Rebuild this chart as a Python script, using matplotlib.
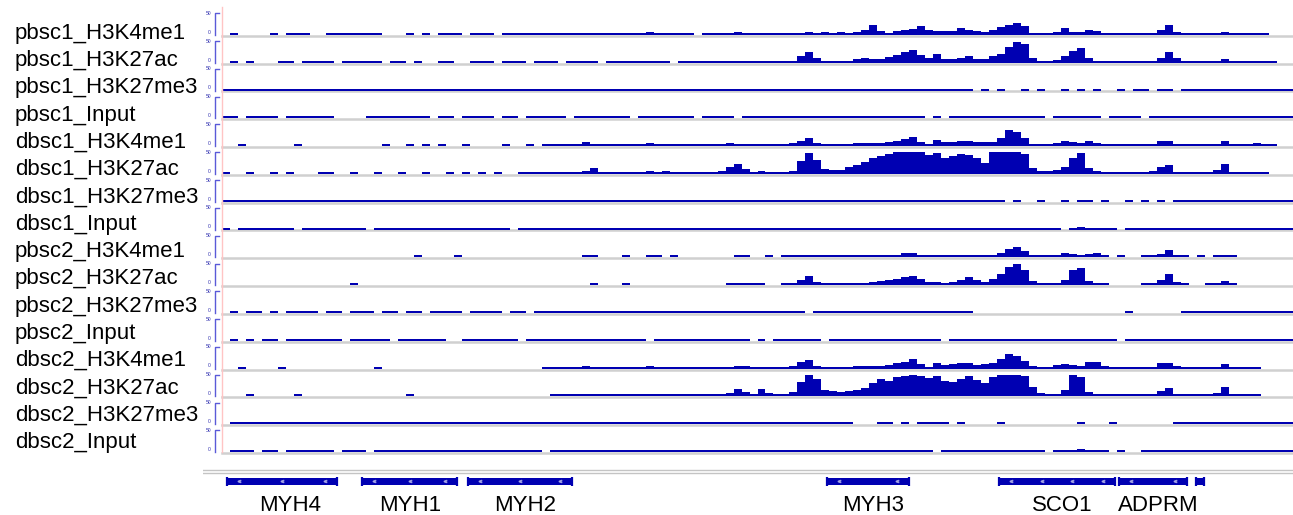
import numpy as np
import matplotlib
matplotlib.use("Agg")
import matplotlib.pyplot as plt

plt.rcParams["font.family"] = ["Liberation Sans", "DejaVu Sans"]

# region shown: 134 bins of 4 kb
region_start = 0
bin_kb = 4

track_names = [
    "pbsc1_H3K4me1", "pbsc1_H3K27ac", "pbsc1_H3K27me3", "pbsc1_Input",
    "dbsc1_H3K4me1", "dbsc1_H3K27ac", "dbsc1_H3K27me3", "dbsc1_Input",
    "pbsc2_H3K4me1", "pbsc2_H3K27ac", "pbsc2_H3K27me3", "pbsc2_Input",
    "dbsc2_H3K4me1", "dbsc2_H3K27ac", "dbsc2_H3K27me3", "dbsc2_Input",
]

# signal per bin (0-50 scale, peak height inside each bin)
pbsc1_H3K4me1 = [
    0, 1, 0, 0, 0, 0, 1, 0, 1, 1, 1, 0, 0, 1, 1, 1, 1, 1, 1, 1, 0, 0, 0, 1, 0, 1, 0, 1, 1, 1,
    0, 1, 1, 1, 0, 1, 1, 1, 1, 1, 2, 2, 2, 3, 2, 2, 1, 1, 2, 2, 2, 2, 4, 8, 3, 2, 2, 1, 2, 0,
    1, 2, 2, 3, 6, 4, 2,
    1, 2, 2, 3, 3, 4, 6, 5, 6, 5, 6, 5, 8, 12, 22, 9, 5, 10, 12, 14, 20, 12, 10, 9, 10, 15, 11, 9, 8, 12,
    18, 24, 28, 20, 3, 3, 4, 8, 15, 7, 7, 12, 9, 3, 2, 1, 2, 1, 1, 3, 12, 22, 8, 3, 2, 2, 3, 4,
    6, 3, 2, 2, 3, 2, 0, 0, 0,
]
pbsc1_H3K27ac = [
    0, 1, 0, 1, 0, 0, 0, 1, 1, 0, 1, 1, 1, 1, 0, 1, 1, 1, 1, 1, 0, 1, 1, 0, 1, 0, 0, 1, 1, 0,
    0, 1, 1, 1, 0, 1, 1, 1, 0, 1, 1, 1, 0, 1, 2, 1, 1, 0, 1, 2, 1, 1, 2, 3, 2, 1, 0, 1, 2, 2,
    2, 2, 3, 3, 5, 4, 2,
    1, 2, 1, 2, 3, 16, 24, 10, 5, 4, 4, 5, 8, 10, 9, 8, 13, 18, 24, 30, 18, 10, 20, 9, 8, 10, 16, 8, 8, 15,
    20, 36, 48, 44, 10, 3, 3, 6, 15, 28, 34, 12, 5, 4, 2, 1, 1, 1, 2, 4, 12, 24, 10, 3, 2, 1, 3, 5,
    8, 5, 2, 1, 2, 1, 1, 0, 0,
]
pbsc1_H3K27me3 = [
    1, 2, 1, 1, 2, 1, 1, 1, 2, 1, 1, 2, 1, 1, 1, 2, 1, 1, 2, 1, 1, 1, 2, 2, 1, 1, 1, 2, 1, 1,
    1, 2, 1, 1, 1, 1, 2, 1, 1, 2, 1, 1, 2, 2, 2, 1, 1, 1, 2, 1, 1, 1, 2, 2, 2, 2, 1, 1, 1, 2,
    2, 1, 1, 2, 2, 2, 1,
    1, 2, 1, 1, 2, 1, 1, 2, 1, 1, 2, 1, 1, 1, 2, 1, 2, 1, 2, 2, 1, 2, 1, 1, 2, 1, 1, 0, 1, 0,
    1, 0, 0, 1, 0, 1, 0, 0, 1, 0, 1, 0, 1, 0, 0, 1, 0, 1, 1, 0, 1, 1, 0, 2, 4, 3, 3, 2, 2, 2,
    3, 2, 2, 3, 2, 1, 2,
]
pbsc1_Input = [
    1, 1, 0, 1, 2, 1, 1, 0, 1, 1, 1, 1, 1, 1, 0, 0, 0, 0, 1, 1, 1, 1, 1, 2, 1, 1, 0, 1, 1, 0,
    1, 1, 1, 1, 0, 1, 1, 0, 1, 1, 2, 1, 1, 0, 1, 1, 1, 2, 1, 1, 1, 0, 1, 2, 1, 1, 1, 2, 1, 0,
    1, 1, 2, 1, 0, 1, 1,
    1, 1, 2, 1, 1, 2, 1, 1, 2, 2, 1, 2, 2, 1, 1, 2, 2, 1, 1, 2, 1, 0, 1, 0, 1, 1, 1, 2, 1, 3,
    1, 1, 2, 1, 2, 1, 0, 1, 2, 1, 3, 2, 1, 0, 1, 1, 1, 1, 0, 1, 4, 2, 1, 1, 1, 1, 2, 2, 2, 3,
    2, 1, 1, 1, 1, 1, 1,
]
dbsc1_H3K4me1 = [
    0, 0, 1, 0, 0, 0, 0, 0, 0, 1, 0, 0, 0, 0, 0, 0, 0, 0, 0, 0, 1, 0, 0, 1, 0, 1, 0, 1, 0, 0,
    1, 0, 0, 0, 0, 1, 0, 0, 1, 0, 1, 1, 1, 2, 4, 9, 3, 1, 2, 1, 1, 1, 2, 7, 3, 2, 1, 1, 1, 1,
    1, 2, 3, 7, 5, 3, 2,
    2, 2, 3, 4, 7, 11, 20, 8, 4, 4, 5, 4, 7, 8, 7, 8, 9, 12, 16, 22, 10, 5, 15, 9, 9, 12, 13, 10, 9, 10,
    18, 38, 32, 18, 5, 3, 3, 8, 13, 9, 7, 11, 8, 4, 2, 1, 2, 1, 2, 4, 12, 12, 4, 3, 3, 4, 3, 5,
    12, 4, 2, 1, 8, 2, 1, 0, 0,
]
dbsc1_H3K27ac = [
    1, 0, 0, 1, 0, 0, 1, 0, 1, 0, 0, 0, 1, 1, 0, 0, 1, 0, 0, 1, 0, 0, 1, 0, 0, 1, 0, 0, 1, 0,
    1, 0, 1, 0, 1, 0, 0, 1, 1, 1, 1, 1, 2, 2, 3, 8, 13, 5, 2, 1, 1, 2, 2, 8, 3, 6, 2, 1, 1, 1,
    2, 3, 8, 15, 22, 12, 5,
    8, 4, 3, 3, 8, 30, 48, 32, 12, 10, 10, 15, 20, 28, 36, 42, 46, 50, 50, 50, 50, 44, 48, 38, 42, 46, 44, 36, 26, 50,
    50, 50, 50, 46, 14, 8, 7, 9, 15, 36, 48, 14, 6, 4, 3, 2, 1, 2, 3, 8, 15, 20, 4, 2, 1, 2, 4, 10,
    24, 5, 2, 1, 1, 1, 0, 0, 0,
]
dbsc1_H3K27me3 = [
    2, 1, 2, 2, 1, 1, 1, 2, 1, 1, 1, 2, 2, 1, 1, 2, 1, 2, 2, 1, 1, 1, 2, 2, 1, 2, 2, 2, 1, 2,
    1, 2, 2, 1, 1, 1, 1, 1, 2, 1, 1, 2, 2, 2, 1, 2, 1, 1, 2, 1, 1, 2, 1, 2, 1, 2, 2, 1, 1, 2,
    2, 1, 2, 1, 2, 1, 1,
    1, 1, 2, 1, 1, 2, 1, 1, 1, 2, 1, 1, 2, 1, 2, 1, 1, 2, 1, 1, 1, 2, 1, 1, 1, 1, 1, 1, 1, 1,
    2, 0, 1, 0, 0, 1, 0, 0, 1, 0, 1, 1, 0, 1, 0, 0, 1, 0, 1, 0, 1, 0, 2, 2, 3, 2, 2, 2, 1, 5,
    4, 3, 2, 2, 2, 2, 1,
]
dbsc1_Input = [
    1, 0, 1, 1, 1, 2, 2, 2, 1, 0, 1, 1, 1, 2, 1, 1, 1, 1, 0, 1, 1, 1, 1, 1, 1, 2, 1, 1, 1, 1,
    1, 2, 2, 3, 1, 1, 0, 1, 1, 1, 1, 1, 1, 2, 1, 1, 1, 1, 2, 1, 2, 1, 1, 1, 1, 1, 1, 2, 1, 1,
    2, 3, 2, 3, 2, 2, 1,
    2, 2, 2, 1, 2, 3, 3, 2, 2, 3, 3, 3, 2, 3, 3, 3, 3, 3, 2, 3, 3, 1, 1, 1, 2, 2, 1, 2, 2, 3,
    2, 1, 1, 2, 1, 1, 1, 1, 0, 1, 6, 2, 1, 1, 1, 0, 1, 1, 1, 2, 1, 2, 1, 2, 2, 1, 2, 2, 2, 1,
    4, 2, 1, 2, 1, 1, 1,
]
pbsc2_H3K4me1 = [
    0, 0, 0, 0, 0, 0, 0, 0, 0, 0, 0, 0, 0, 0, 0, 0, 0, 0, 0, 0, 0, 0, 0, 0, 1, 0, 0, 0, 0, 1,
    0, 0, 0, 0, 0, 0, 0, 0, 0, 0, 0, 0, 0, 0, 0, 1, 1, 0, 0, 0, 1, 0, 0, 2, 2, 0, 1, 0, 0, 0,
    0, 0, 0, 0, 2, 2, 0,
    0, 1, 0, 2, 3, 4, 5, 3, 2, 3, 3, 3, 4, 3, 4, 5, 5, 6, 9, 11, 6, 4, 4, 4, 5, 6, 5, 5, 5, 6,
    11, 20, 24, 15, 5, 1, 2, 4, 11, 8, 4, 8, 11, 3, 0, 1, 0, 0, 1, 1, 8, 16, 6, 2, 0, 1, 0, 1,
    4, 2, 0, 0, 0, 0, 0, 0, 0,
]
pbsc2_H3K27ac = [
    0, 0, 0, 0, 0, 0, 0, 0, 0, 0, 0, 0, 0, 0, 0, 0, 1, 0, 0, 0, 0, 0, 0, 0, 0, 0, 0, 0, 0, 0,
    0, 0, 0, 0, 0, 0, 0, 0, 0, 0, 0, 0, 0, 0, 0, 0, 1, 0, 0, 0, 1, 0, 0, 0, 0, 0, 0, 0, 0, 0,
    0, 0, 0, 2, 3, 4, 1,
    1, 0, 0, 2, 4, 13, 21, 8, 3, 3, 4, 3, 4, 6, 8, 10, 11, 14, 19, 22, 15, 8, 7, 6, 7, 11, 18, 13, 8, 15,
    26, 42, 48, 34, 10, 3, 2, 4, 11, 34, 40, 10, 4, 4, 0, 0, 0, 0, 1, 4, 13, 26, 8, 2, 0, 0, 1, 4,
    10, 3, 0, 0, 0, 0, 0, 0, 0,
]
pbsc2_H3K27me3 = [
    0, 1, 0, 1, 1, 0, 1, 0, 1, 1, 1, 1, 0, 1, 1, 0, 1, 1, 1, 0, 1, 1, 0, 1, 1, 0, 1, 1, 1, 1,
    0, 1, 1, 1, 1, 0, 1, 1, 0, 1, 1, 1, 1, 1, 1, 1, 1, 2, 1, 1, 1, 1, 2, 1, 1, 1, 1, 1, 2, 1,
    1, 1, 1, 2, 1, 1, 1,
    1, 1, 1, 1, 1, 1, 0, 1, 1, 1, 1, 1, 1, 2, 1, 1, 1, 1, 1, 1, 2, 1, 1, 1, 1, 1, 1, 0, 0, 0,
    0, 0, 0, 0, 0, 0, 0, 0, 0, 0, 0, 0, 0, 0, 0, 0, 1, 0, 0, 0, 0, 0, 0, 4, 4, 4, 4, 3, 1, 2,
    3, 2, 2, 2, 2, 2, 2,
]
pbsc2_Input = [
    0, 1, 0, 1, 0, 1, 1, 0, 1, 1, 1, 1, 1, 1, 1, 0, 1, 1, 1, 1, 1, 0, 1, 1, 1, 1, 1, 1, 0, 0,
    1, 1, 1, 1, 1, 1, 1, 0, 1, 1, 1, 1, 1, 1, 1, 1, 1, 1, 1, 1, 1, 1, 1, 0, 1, 1, 1, 1, 1, 1,
    1, 1, 1, 1, 1, 1, 0,
    1, 0, 1, 1, 1, 1, 1, 1, 0, 1, 1, 1, 1, 1, 1, 1, 1, 1, 1, 1, 1, 1, 1, 0, 1, 1, 1, 1, 1, 1,
    1, 1, 1, 1, 1, 1, 1, 1, 1, 2, 4, 1, 1, 1, 1, 0, 1, 1, 1, 1, 1, 1, 1, 1, 1, 1, 1, 1, 1, 1,
    1, 1, 1, 1, 1, 1, 1,
]
dbsc2_H3K4me1 = [
    0, 0, 1, 0, 0, 0, 0, 1, 0, 0, 0, 0, 0, 0, 0, 0, 0, 0, 0, 1, 0, 0, 0, 0, 0, 0, 0, 0, 0, 0,
    0, 0, 0, 0, 0, 0, 0, 0, 0, 0, 1, 1, 1, 2, 4, 7, 3, 1, 1, 1, 1, 1, 2, 5, 3, 1, 1, 1, 1, 1,
    1, 1, 2, 3, 6, 5, 2,
    2, 2, 3, 3, 6, 15, 19, 6, 3, 4, 4, 4, 6, 7, 7, 7, 8, 12, 16, 21, 10, 4, 13, 8, 10, 12, 13, 9, 10, 13,
    22, 34, 30, 18, 5, 3, 3, 8, 11, 8, 6, 15, 16, 5, 2, 1, 1, 1, 2, 3, 12, 14, 5, 3, 4, 3, 3, 4,
    10, 3, 2, 1, 3, 0, 0, 0, 0,
]
dbsc2_H3K27ac = [
    0, 0, 0, 1, 0, 0, 0, 0, 0, 1, 0, 0, 0, 0, 0, 0, 0, 0, 0, 0, 0, 0, 0, 1, 0, 0, 0, 0, 0, 0,
    0, 0, 0, 0, 0, 0, 0, 0, 0, 0, 0, 1, 1, 2, 3, 4, 5, 3, 1, 1, 1, 2, 2, 3, 2, 1, 1, 1, 1, 1,
    1, 2, 3, 8, 17, 10, 3,
    18, 8, 4, 4, 10, 34, 50, 40, 14, 12, 11, 13, 15, 20, 30, 40, 36, 44, 48, 50, 46, 42, 46, 36, 34, 40, 46, 38, 30, 44,
    50, 50, 50, 48, 22, 8, 5, 5, 15, 50, 44, 10, 5, 3, 1, 1, 1, 1, 2, 3, 13, 20, 5, 2, 1, 1, 3, 8,
    21, 4, 1, 1, 1, 0, 0, 0, 0,
]
dbsc2_H3K27me3 = [
    0, 2, 1, 1, 2, 1, 1, 2, 1, 1, 1, 2, 1, 2, 1, 2, 1, 1, 2, 1, 1, 2, 1, 2, 1, 1, 2, 2, 2, 2,
    1, 1, 2, 1, 1, 1, 1, 1, 1, 1, 1, 1, 1, 2, 1, 1, 1, 1, 1, 2, 1, 1, 1, 1, 1, 2, 1, 1, 1, 1,
    1, 1, 1, 1, 2, 1, 1,
    1, 1, 1, 1, 1, 1, 1, 1, 1, 1, 1, 1, 0, 0, 0, 1, 1, 0, 1, 0, 1, 1, 1, 1, 0, 1, 0, 0, 0, 0,
    1, 0, 0, 0, 0, 0, 0, 0, 0, 0, 1, 0, 0, 0, 1, 0, 0, 0, 0, 0, 0, 0, 1, 2, 2, 2, 2, 2, 3, 4,
    3, 3, 2, 2, 2, 2, 2,
]
dbsc2_Input = [
    0, 1, 1, 1, 0, 1, 1, 0, 1, 1, 1, 1, 1, 1, 0, 1, 1, 1, 0, 1, 1, 1, 1, 1, 1, 1, 1, 1, 1, 1,
    1, 3, 2, 1, 1, 1, 1, 1, 1, 1, 0, 1, 1, 1, 1, 1, 1, 1, 1, 1, 1, 1, 1, 1, 1, 1, 1, 1, 1, 1,
    1, 1, 1, 1, 2, 1, 1,
    1, 1, 1, 2, 2, 1, 1, 2, 2, 2, 2, 2, 2, 2, 2, 2, 2, 2, 2, 1, 1, 1, 0, 1, 1, 2, 1, 1, 2, 1,
    1, 1, 1, 1, 1, 1, 0, 1, 1, 1, 6, 1, 1, 1, 0, 1, 0, 0, 2, 1, 2, 2, 1, 2, 2, 2, 2, 2, 3, 2,
    1, 1, 1, 1, 1, 1, 1,
]

tracks = [
    pbsc1_H3K4me1, pbsc1_H3K27ac, pbsc1_H3K27me3, pbsc1_Input,
    dbsc1_H3K4me1, dbsc1_H3K27ac, dbsc1_H3K27me3, dbsc1_Input,
    pbsc2_H3K4me1, pbsc2_H3K27ac, pbsc2_H3K27me3, pbsc2_Input,
    dbsc2_H3K4me1, dbsc2_H3K27ac, dbsc2_H3K27me3, dbsc2_Input,
]

# genes (kb)
gene_names = ["MYH4", "MYH1", "MYH2", "MYH3", "SCO1", "ADPRM", ""]
gene_starts = [2.4, 70.1, 123.1, 302.6, 388.9, 448.9, 487.3]
gene_ends = [57.4, 117.6, 175.2, 344.0, 446.9, 483.0, 491.5]
gene_label_x = [34.0, 94.1, 151.7, 325.8, 420.4, 468.5, 489.4]

BLUE = "#0000b2"
W, H = 1293, 515

fig = plt.figure(figsize=(W / 100, H / 100), dpi=100)


def px_box(x0, y0, x1, y1):
    return [x0 / W, 1 - y1 / H, (x1 - x0) / W, (y1 - y0) / H]


n_bins = len(tracks[0])
edges = region_start + bin_kb * np.arange(n_bins + 1)
x_left, x_right = 222, 1293
slot = 27.8
px_per_kb = (x_right - x_left) / (edges[-1] - edges[0])
ytop = 50 * slot / 21.7
unit_px = ytop / slot
# the browser always draws a non-zero bin at least ~2 px tall
min_visible = 2.0 * unit_px

for i, (name, vals) in enumerate(zip(track_names, tracks)):
    base = 35 + slot * i
    ax = fig.add_axes(px_box(x_left, base - slot, x_right, base))
    ax.set_xlim(edges[0], edges[-1])
    ax.set_ylim(0, ytop)
    ax.axis("off")
    # grey baseline just under the signal
    ax.axhline(-0.9 * unit_px, color="#d0d0d0", lw=1.8, zorder=0, clip_on=False)
    v = np.asarray(vals, dtype=float)
    shown = np.where(v > 0, np.maximum(v, min_visible), 0)
    ax.stairs(shown, edges, fill=True, color=BLUE, lw=0, zorder=2)
    ax.axvline(edges[0], color="#ffc4c4", lw=1, zorder=3, clip_on=False)

    # data range bracket
    tr = ax.get_yaxis_transform()
    bx = -7 / (x_right - x_left)
    ax.plot([bx, bx, bx + 3.5 / (x_right - x_left)], [0, 50, 50],
            color="#5a5ad8", lw=1, transform=tr, clip_on=False)
    ax.text(-11 / (x_right - x_left), 50, "50", transform=tr, ha="right",
            va="center", fontsize=3.6, color="#3030b0")
    ax.text(-11 / (x_right - x_left), 0.5, "0", transform=tr, ha="right",
            va="bottom", fontsize=3.6, color="#3030b0")

    fig.text(15 / W, 1 - (38.7 + 27.29 * i) / H, name, ha="left",
             va="baseline", fontsize=16, color="black")

# gene track
gx0 = 203
gax = fig.add_axes(px_box(gx0, 465, W, 515))
gax.set_xlim(edges[0] - (x_left - gx0) / px_per_kb, edges[-1])
gax.set_ylim(50, 0)
gax.axis("off")
gax.axhline(5, color="#c4c4c4", lw=1)
gax.axhline(8.3, color="#c4c4c4", lw=1)

for name, s, e, lx in zip(gene_names, gene_starts, gene_ends, gene_label_x):
    gax.broken_barh([(s, e - s)], (12.5, 7), color=BLUE, lw=0)
    gax.vlines([s, e], 11.5, 20.5, color=BLUE, lw=1.6)
    if e - s > 20:
        n_arrows = int((e - s) / 14)
        ax_pos = np.linspace(s + 6, e - 6, n_arrows)
        gax.plot(ax_pos, [16] * n_arrows, ls="none", marker="$<$",
                 ms=1.8, color="white", alpha=0.55)
    if name:
        gax.text(lx, 46, name, ha="center", va="baseline", fontsize=16,
                 color="black")

fig.savefig("out.png", dpi=100)
